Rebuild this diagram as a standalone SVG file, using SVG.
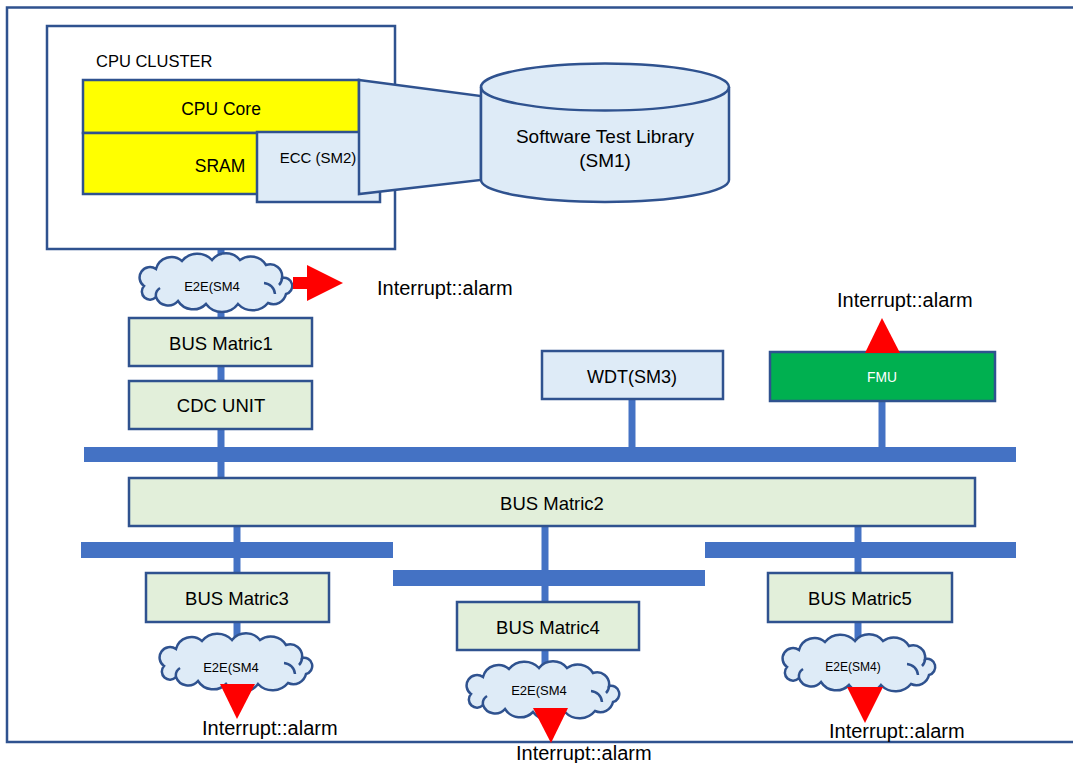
<svg xmlns="http://www.w3.org/2000/svg" xmlns:xlink="http://www.w3.org/1999/xlink" width="1073" height="763" viewBox="0 0 1073 763">
<style>
text{font-family:"Liberation Sans",Arial,sans-serif;fill:#000}
.box{fill:#E2EFDA;stroke:#2F528F;stroke-width:2.5}
.blue{fill:#DEEBF7;stroke:#2F528F;stroke-width:2.5}
.bus{fill:#4472C4}
.wire{stroke:#4472C4;stroke-width:7;fill:none}
.red{fill:#FF0000}
.lbl{font-size:18.5px;text-anchor:middle}
.int{font-size:20px}
.e2e{font-size:13px;text-anchor:middle}
</style>
<defs>
<g id="cloud">
<path class="blue" d="M -74,4 A 10 10 0 0 1 -62,-13 A 16 16 0 0 1 -36,-21 A 20 20 0 0 1 -6,-22 A 18 18 0 0 1 22,-22 A 18 18 0 0 1 48,-17 A 12 12 0 0 1 64,-4 A 8 8 0 0 1 68,12 A 13 13 0 0 1 50,21 A 20 20 0 0 1 20,22 A 20 20 0 0 1 -12,22 A 18 18 0 0 1 -40,19 A 13 13 0 0 1 -62,15 A 8 8 0 0 1 -74,4 Z"/>
<path d="M 46,1 A 12 12 0 0 1 57,12 M -62,15 A 9 9 0 0 1 -58,6 M 64,-4 A 10 10 0 0 1 61,3" fill="none" stroke="#2F528F" stroke-width="2.5"/>
</g>
</defs>
<rect x="7" y="7.5" width="1090" height="734.5" fill="#FFFFFF" stroke="#2F528F" stroke-width="2.5"/>

<g id="connectors">
<line class="wire" x1="221" y1="249" x2="221" y2="478"/>
<line class="wire" x1="632" y1="399" x2="632" y2="447"/>
<line class="wire" x1="882" y1="401" x2="882" y2="447"/>
<line class="wire" x1="237" y1="526" x2="237" y2="645"/>
<line class="wire" x1="545" y1="526" x2="545" y2="670"/>
<line class="wire" x1="858" y1="526" x2="858" y2="645"/>
<rect class="bus" x="84" y="447" width="932" height="15"/>
<rect class="bus" x="81" y="542" width="312" height="16"/>
<rect class="bus" x="393" y="570" width="312" height="16"/>
<rect class="bus" x="705" y="542" width="311" height="16"/>
</g>

<g id="cpu-cluster">
<rect x="47" y="26" width="348" height="223" fill="#FFFFFF" stroke="#2F528F" stroke-width="2.5"/>
<text x="96" y="67" style="font-size:16.5px">CPU CLUSTER</text>
</g>
<g id="cpu-core">
<rect x="83" y="80" width="276" height="53" fill="#FFFF00" stroke="#2F528F" stroke-width="2.5"/>
<text x="221" y="115" style="font-size:17.5px;text-anchor:middle">CPU Core</text>
</g>
<g id="sram">
<rect x="83" y="133" width="276" height="61" fill="#FFFF00" stroke="#2F528F" stroke-width="2.5"/>
<text x="220" y="172" style="font-size:17.5px;text-anchor:middle">SRAM</text>
</g>
<g id="ecc">
<rect class="blue" x="257" y="132" width="123" height="70"/>
<text x="318" y="163" style="font-size:15px;text-anchor:middle">ECC (SM2)</text>
</g>
<g id="stl-link">
<polygon class="blue" points="359,80 481,96 481,180 359,194"/>
</g>
<g id="stl">
<path class="blue" d="M 481,87 L 481,180 A 124 22 0 0 0 729,180 L 729,87 A 124 23.5 0 0 0 481,87 Z"/>
<path d="M 481,87 A 124 23.5 0 0 0 729,87" fill="none" stroke="#2F528F" stroke-width="2.5"/>
<text x="605" y="143" style="font-size:19px;text-anchor:middle">Software Test Library</text>
<text x="605" y="167" style="font-size:19px;text-anchor:middle">(SM1)</text>
</g>

<g id="e2e-1">
<use xlink:href="#cloud" transform="translate(218,282)"/>
<text class="e2e" x="212" y="291">E2E(SM4</text>
<polygon class="red" points="293,277 307,277 307,265 343,283 307,301 307,289 293,289"/>
<text class="int" x="377" y="295">Interrupt::alarm</text>
</g>

<g id="bus-matric1">
<rect class="box" x="129" y="318" width="183" height="48"/>
<text class="lbl" x="221" y="350">BUS Matric1</text>
</g>
<g id="cdc-unit">
<rect class="box" x="129" y="381" width="183" height="48"/>
<text class="lbl" x="221" y="412">CDC UNIT</text>
</g>
<g id="wdt">
<rect class="blue" x="542" y="351" width="181" height="48"/>
<text class="lbl" x="632" y="383" style="font-size:18px">WDT(SM3)</text>
</g>
<g id="fmu">
<rect x="770" y="352" width="225" height="49" fill="#00B050" stroke="#2F528F" stroke-width="2.5"/>
<text x="882" y="382" style="font-size:13.8px;text-anchor:middle;fill:#FFFFFF">FMU</text>
<polygon class="red" points="865,353 900,353 882,318"/>
<text class="int" x="837" y="307">Interrupt::alarm</text>
</g>
<g id="bus-matric2">
<rect class="box" x="129" y="478" width="846" height="48"/>
<text class="lbl" x="552" y="510">BUS Matric2</text>
</g>
<g id="bus-matric3">
<rect class="box" x="146" y="573" width="183" height="49"/>
<text class="lbl" x="237" y="605">BUS Matric3</text>
</g>
<g id="bus-matric4">
<rect class="box" x="457" y="602" width="182" height="48"/>
<text class="lbl" x="548" y="634">BUS Matric4</text>
</g>
<g id="bus-matric5">
<rect class="box" x="768" y="573" width="184" height="49"/>
<text class="lbl" x="860" y="605">BUS Matric5</text>
</g>

<g id="e2e-3">
<use xlink:href="#cloud" transform="translate(238,662)"/>
<text class="e2e" x="231" y="672">E2E(SM4</text>
<polygon class="red" points="220,684 255,684 237,719"/>
<text class="int" x="202" y="735">Interrupt::alarm</text>
</g>
<g id="e2e-4">
<use xlink:href="#cloud" transform="translate(545,690)"/>
<text class="e2e" x="539" y="695">E2E(SM4</text>
<polygon class="red" points="533,708 568,708 551,743"/>
<text class="int" x="516" y="760">Interrupt::alarm</text>
</g>
<g id="e2e-5">
<use xlink:href="#cloud" transform="translate(861,663)"/>
<text class="e2e" x="853" y="671" style="font-size:12px">E2E(SM4)</text>
<polygon class="red" points="847,687 883,687 865,723"/>
<text class="int" x="829" y="738">Interrupt::alarm</text>
</g>
</svg>
